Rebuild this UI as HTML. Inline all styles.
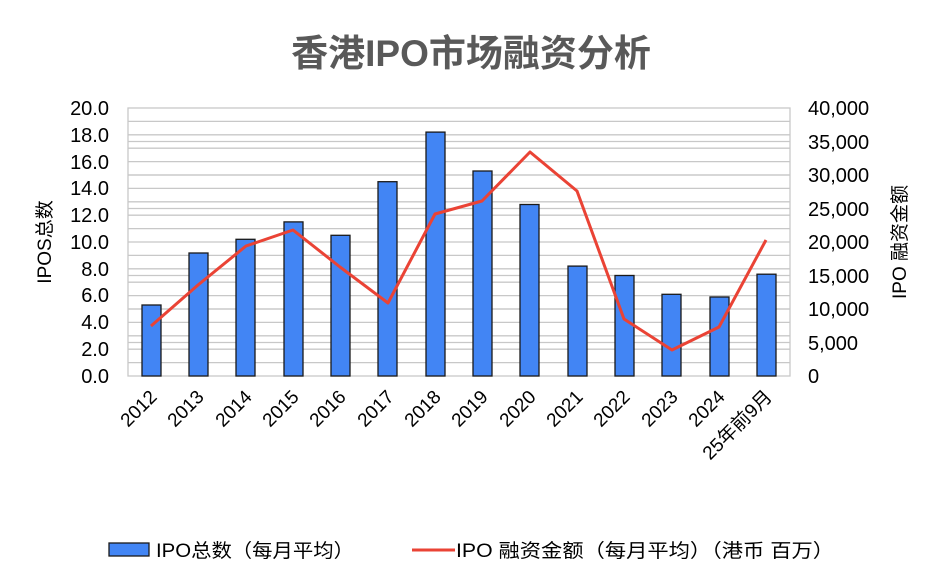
<!DOCTYPE html>
<html><head><meta charset="utf-8"><style>
body{margin:0;background:#fff}
text{font-family:"Liberation Sans","Noto Sans CJK SC",sans-serif;fill:#000}
</style></head><body>
<svg width="940" height="582" xmlns="http://www.w3.org/2000/svg">
<rect width="940" height="582" fill="#fff"/>
<text x="471" y="66" text-anchor="middle" font-size="37" font-weight="bold" style="fill:#595959">香港IPO市场融资分析</text>
<g stroke="#c8c8c8" stroke-width="1.3">
<line x1="128" x2="790" y1="121.4" y2="121.4"/><line x1="128" x2="790" y1="134.8" y2="134.8"/>
<line x1="128" x2="790" y1="148.2" y2="148.2"/><line x1="128" x2="790" y1="161.6" y2="161.6"/>
<line x1="128" x2="790" y1="175" y2="175"/><line x1="128" x2="790" y1="188.4" y2="188.4"/>
<line x1="128" x2="790" y1="201.8" y2="201.8"/><line x1="128" x2="790" y1="215.2" y2="215.2"/>
<line x1="128" x2="790" y1="228.6" y2="228.6"/><line x1="128" x2="790" y1="242" y2="242"/>
<line x1="128" x2="790" y1="255.4" y2="255.4"/><line x1="128" x2="790" y1="268.8" y2="268.8"/>
<line x1="128" x2="790" y1="282.2" y2="282.2"/><line x1="128" x2="790" y1="295.6" y2="295.6"/>
<line x1="128" x2="790" y1="309" y2="309"/><line x1="128" x2="790" y1="322.4" y2="322.4"/>
<line x1="128" x2="790" y1="335.8" y2="335.8"/><line x1="128" x2="790" y1="349.2" y2="349.2"/>
<line x1="128" x2="790" y1="362.6" y2="362.6"/>
<line x1="128" x2="790" y1="141.5" y2="141.5"/><line x1="128" x2="790" y1="175" y2="175"/>
<line x1="128" x2="790" y1="208.5" y2="208.5"/><line x1="128" x2="790" y1="275.5" y2="275.5"/>
<line x1="128" x2="790" y1="309" y2="309"/><line x1="128" x2="790" y1="342.5" y2="342.5"/>
<rect x="128" y="108" width="662" height="268" fill="none"/>
</g>
<g fill="#4285f4" stroke="#1a1a1a" stroke-width="1.3">
<rect x="142" y="305" width="19" height="71"/>
<rect x="189" y="253" width="19" height="123"/>
<rect x="236" y="239.3" width="19" height="136.7"/>
<rect x="284" y="221.9" width="19" height="154.1"/>
<rect x="331" y="235.3" width="19" height="140.7"/>
<rect x="378" y="181.7" width="19" height="194.3"/>
<rect x="426" y="132.1" width="19" height="243.9"/>
<rect x="473" y="171" width="19" height="205"/>
<rect x="520" y="204.5" width="19" height="171.5"/>
<rect x="568" y="266.1" width="19" height="109.9"/>
<rect x="615" y="275.5" width="19" height="100.5"/>
<rect x="662" y="294.3" width="19" height="81.7"/>
<rect x="710" y="297" width="19" height="79"/>
<rect x="757" y="274.2" width="19" height="101.8"/>
</g>
<polyline fill="none" stroke="#ea4335" stroke-width="3" stroke-linejoin="round" points="151,326 198,285 246,246 293,230 340,267 388,303 435,214 482,201 530,152 577,191 624,319 672,350 719,327 766,240"/>
<g font-size="20" text-anchor="end">
<text x="109" y="115">20.0</text><text x="109" y="142">18.0</text><text x="109" y="169">16.0</text>
<text x="109" y="195">14.0</text><text x="109" y="222">12.0</text><text x="109" y="249">10.0</text>
<text x="109" y="276">8.0</text><text x="109" y="302">6.0</text><text x="109" y="329">4.0</text>
<text x="109" y="356">2.0</text><text x="109" y="383">0.0</text>
</g>
<g font-size="20">
<text x="808" y="115">40,000</text><text x="808" y="149">35,000</text><text x="808" y="182">30,000</text>
<text x="808" y="216">25,000</text><text x="808" y="249">20,000</text><text x="808" y="283">15,000</text>
<text x="808" y="316">10,000</text><text x="808" y="350">5,000</text><text x="808" y="383">0</text>
</g>
<text transform="translate(51,242) rotate(-90)" text-anchor="middle" font-size="19">IPOS总数</text>
<text transform="translate(906,242) rotate(-90)" text-anchor="middle" font-size="19">IPO 融资金额</text>
<g font-size="19" text-anchor="end">
<text transform="translate(158,398) rotate(-45)">2012</text>
<text transform="translate(205,398) rotate(-45)">2013</text>
<text transform="translate(253,398) rotate(-45)">2014</text>
<text transform="translate(300,398) rotate(-45)">2015</text>
<text transform="translate(347,398) rotate(-45)">2016</text>
<text transform="translate(395,398) rotate(-45)">2017</text>
<text transform="translate(442,398) rotate(-45)">2018</text>
<text transform="translate(489,398) rotate(-45)">2019</text>
<text transform="translate(537,398) rotate(-45)">2020</text>
<text transform="translate(584,398) rotate(-45)">2021</text>
<text transform="translate(631,398) rotate(-45)">2022</text>
<text transform="translate(679,398) rotate(-45)">2023</text>
<text transform="translate(726,398) rotate(-45)">2024</text>
<text transform="translate(773,398) rotate(-45)">25年前9月</text>
</g>
<rect x="109" y="543" width="40" height="13" fill="#4285f4" stroke="#1a1a1a" stroke-width="1.3"/>
<text x="156" y="557" font-size="19" textLength="198" lengthAdjust="spacingAndGlyphs">IPO总数（每月平均）</text>
<line x1="412" x2="455" y1="550" y2="550" stroke="#ea4335" stroke-width="3"/>
<text x="456" y="557" font-size="19" textLength="378" lengthAdjust="spacingAndGlyphs">IPO 融资金额（每月平均）（港币 百万）</text>
</svg>
</body></html>
